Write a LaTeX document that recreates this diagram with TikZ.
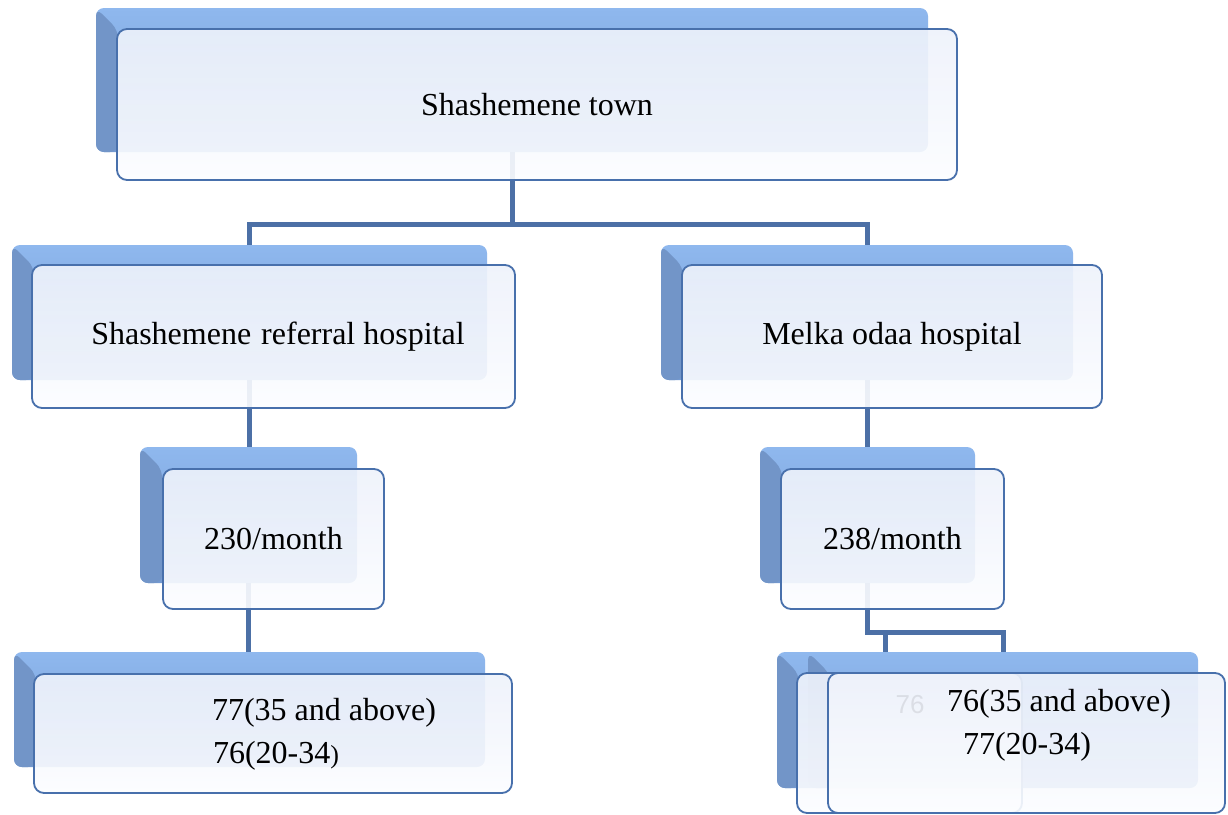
\documentclass[tikz,border=0pt]{standalone}
\usepackage{fontspec}
\setmainfont{Liberation Serif}
\newfontfamily\labsans{Liberation Sans}
\usetikzlibrary{calc}
\definecolor{shA}{RGB}{143,184,238}
\definecolor{shB}{RGB}{116,154,210}
\definecolor{shC}{RGB}{114,149,200}
\definecolor{frameC}{RGB}{72,112,172}
\definecolor{connC}{RGB}{76,112,166}
\definecolor{frontA}{RGB}{238,242,251}
\definecolor{frontB}{RGB}{252,253,255}
\tikzset{
  shadowbox/.style={rounded corners=8pt, top color=shA, bottom color=shB, inner sep=0pt,
    path picture={\fill[shC] (path picture bounding box.north west) -- ++(22,22)
      -- ($(path picture bounding box.south west)+(22,0)$)
      -- (path picture bounding box.south west) -- cycle;}},
  frontbox/.style={rounded corners=10pt, draw=frameC, line width=1.8pt,
    top color=frontA, bottom color=frontB, fill opacity=0.91, draw opacity=1,
    text opacity=1, inner sep=0pt, font=\fontsize{32}{38}\selectfont},
  txt/.style={inner sep=0pt, font=\fontsize{32}{38}\selectfont},
  conn/.style={draw=connC, line width=5pt}
}
\begin{document}
\begin{tikzpicture}[x=1pt,y=-1pt]
\useasboundingbox (0,0) rectangle (1228,814);
\fill[white] (0,0) rectangle (1228,814);
% shadow nodes (positions only, drawn later)
\path node[minimum width=832pt, minimum height=144pt, inner sep=0pt] (tS) at (512,80) {};
\path node[minimum width=475pt, minimum height=135pt, inner sep=0pt] (hLS) at (249.5,312.5) {};
\path node[minimum width=412pt, minimum height=135pt, inner sep=0pt] (hRS) at (867,312.5) {};
\path node[minimum width=217pt, minimum height=136pt, inner sep=0pt] (mLS) at (248.5,515) {};
\path node[minimum width=215pt, minimum height=136pt, inner sep=0pt] (mRS) at (867.5,515) {};
\path node[minimum width=471pt, minimum height=115pt, inner sep=0pt] (bLS) at (249.5,709.5) {};
\path node[minimum width=216pt, minimum height=136pt, inner sep=0pt] (bAS) at (885,720) {};
\path node[minimum width=390pt, minimum height=136pt, inner sep=0pt] (bBS) at (1003,720) {};
\coordinate (j) at (867.5,632);
% connectors
\draw[conn] (tS.south) -- ++(0,72) -| (hLS.north);
\draw[conn] (tS.south) -- ++(0,72) -| (hRS.north);
\draw[conn] (hLS.south) -- (hLS.south |- mLS.north);
\draw[conn] (mLS.south) -- (mLS.south |- bLS.north);
\draw[conn] (hRS.south) -- (hRS.south |- mRS.north);
\draw[conn] (mRS.south) -- (j) -| (bBS.north);
\draw[conn] (bAS.north |- j) -- (bAS.north);
% shadows
\node[shadowbox, minimum width=832pt, minimum height=144pt] at (tS) {};
\node[shadowbox, minimum width=475pt, minimum height=135pt] at (hLS) {};
\node[shadowbox, minimum width=412pt, minimum height=135pt] at (hRS) {};
\node[shadowbox, minimum width=217pt, minimum height=136pt] at (mLS) {};
\node[shadowbox, minimum width=215pt, minimum height=136pt] at (mRS) {};
\node[shadowbox, minimum width=471pt, minimum height=115pt] at (bLS) {};
\node[shadowbox, minimum width=216pt, minimum height=136pt] at (bAS) {};
\node[shadowbox, minimum width=390pt, minimum height=136pt] at (bBS) {};
% fronts
\node[frontbox, minimum width=840pt, minimum height=151pt] (tF) at (537,104.5) {Shashemene town};
\node[frontbox, minimum width=483pt, minimum height=143pt] (hLF) at (273.5,336.5) {\hspace*{9pt}Shashemene\hspace{10pt}referral hospital};
\node[frontbox, minimum width=420pt, minimum height=143pt] (hRF) at (892,336.5) {Melka odaa hospital};
\node[frontbox, minimum width=221pt, minimum height=140pt] (mLF) at (273.5,539) {\raisebox{-2pt}{230/month}};
\node[frontbox, minimum width=223pt, minimum height=140pt] (mRF) at (892.5,539) {\raisebox{-2pt}{238/month}};
\node[frontbox, minimum width=478pt, minimum height=119pt] (bLF) at (273,733.5) {};
\node[txt] (bLT1) at (324,713) {77(35 and above)};
\node[txt] (bLT2) at (276,756) {76(20-34{\fontsize{26}{30}\selectfont )}};
\node[frontbox, minimum width=225pt, minimum height=140pt] (bAF) at (909.5,743) {};
\node[inner sep=0pt, font=\labsans\fontsize{26}{30}\selectfont] (bAT) at (910,705) {76};
\node[frontbox, minimum width=397pt, minimum height=140pt] (bBF) at (1026.5,743) {};
\node[txt] (bBT1) at (1059,704) {76(35 and above)};
\node[txt] (bBT2) at (1027,747) {77(20-34)};
\end{tikzpicture}
\end{document}
